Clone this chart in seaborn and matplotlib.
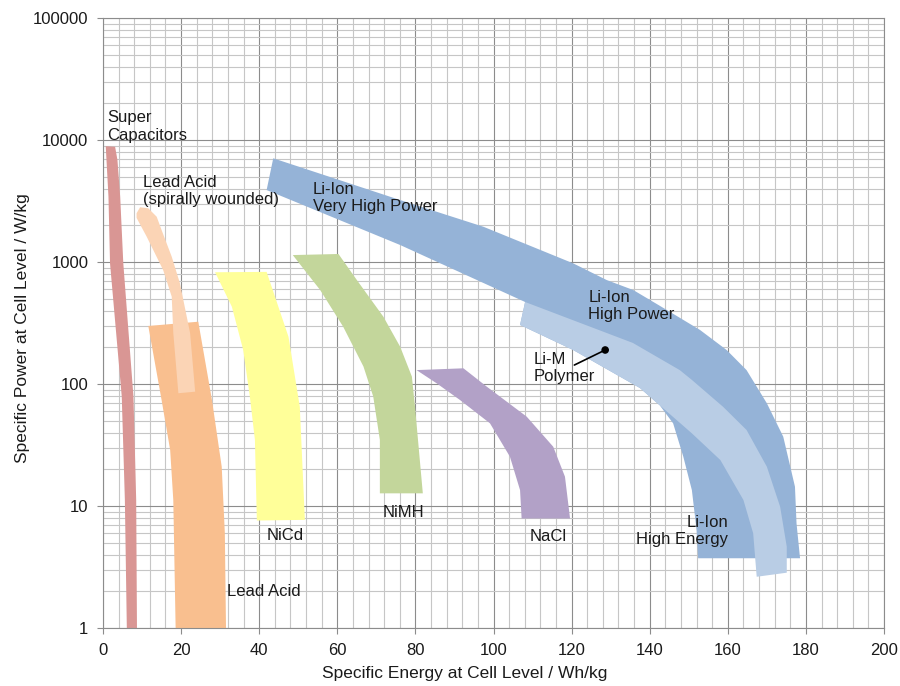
import matplotlib
matplotlib.use("Agg")
import matplotlib.pyplot as plt
from matplotlib.ticker import MultipleLocator, FixedLocator, FixedFormatter, LogLocator, NullFormatter
import seaborn as sns
import pandas as pd

sns.set_theme(style="white")
plt.rcParams["font.family"] = ["Liberation Sans", "DejaVu Sans"]

# Region outlines: specific energy (Wh/kg) and specific power (W/kg)
supercap_energy = [0.7, 1.4, 1.8, 3.3, 4.8, 5.6, 6.1, 8.7, 8.5, 7.8, 6.5, 5.2, 4.4, 3.7, 3.1]
supercap_power = [8900, 3430, 975, 277, 79, 11.2, 1, 1, 11.2, 79, 277, 975, 3430, 6860, 8800]

lead_energy = [11.6, 24.4, 27.9, 30.4, 31.2, 31.5, 18.6, 18.0, 17.2, 15.0]
lead_power = [299, 324, 74, 21, 6.0, 1, 1, 11.2, 28.8, 74]

spiral_energy = [8.6, 8.6, 9.5, 11.6, 13.75, 15.0, 17.6, 19.7, 22.3, 23.6, 19.3, 18.0, 17.6, 15.4, 11.2]
spiral_power = [2300, 2510, 2810, 2755, 2350, 1830, 1105, 669, 262, 86.5, 84, 262, 520, 860, 1610]

nicd_energy = [28.7, 41.9, 47.5, 50.4, 51.7, 39.4, 38.9, 37.6, 35.9, 33.0]
nicd_power = [824, 830, 244, 65, 7.7, 7.6, 34.8, 79, 190, 430]

nimh_energy = [48.6, 60.3, 65.0, 71.8, 76.1, 79.1, 79.9, 81.9, 70.9, 70.9, 69.2, 66.7, 61.5, 55.6]
nimh_power = [1140, 1163, 712, 356, 202, 115, 65, 12.7, 12.7, 34.8, 79, 139, 295, 590]

nacl_energy = [80.3, 92.3, 98.3, 108.5, 115.3, 118.3, 119.6, 107.2, 106.8, 104.2, 99.1, 91.4, 85.5]
nacl_power = [130, 134.5, 95, 54, 30.6, 17.4, 7.9, 7.9, 13.5, 25.4, 47.6, 74, 101]

liion_energy = [43.6, 76.1, 97.4, 120.4, 129.0, 135.8, 144.4, 152.9, 159.7, 164.8, 170.0,
                174.2, 177.2, 177.6, 178.5, 152.4, 152.0, 150.8, 148.6, 146.0, 142.6,
                137.5, 120.4, 106.8, 108.1, 76.1, 41.9]
liion_power = [7080, 3220, 1946, 975, 711, 589, 404, 277, 190, 130, 69.5,
               37, 14.4, 7.2, 3.73, 3.73, 6.36, 13.5, 25.4, 47.6, 66.7,
               92.7, 190, 305, 470, 1378, 3890]

polymer_energy = [108.1, 135.7, 147.7, 150.8, 158.8, 164.8, 170.0, 173.4, 175.1, 175.1,
                  167.4, 166.5, 164.0, 158.1, 150.8, 137.5, 120.4, 106.8]
polymer_power = [470, 217, 130, 108, 65, 42, 21, 9.87, 4.64, 2.84,
                 2.63, 5.97, 11.2, 23.8, 39.4, 92.7, 190, 305]

# Region labels
label_text = ["Super\nCapacitors", "Lead Acid\n(spirally wounded)", "Li-Ion\nVery High Power",
              "Li-Ion\nHigh Power", "Li-M\nPolymer", "NiCd", "NiMH", "NaCl",
              "Li-Ion\nHigh Energy", "Lead Acid"]
label_x = [1.0, 10.3, 53.7, 124.3, 110.2, 42.0, 71.6, 109.3, 160.1, 31.7]
label_y = [12900, 3820, 3350, 436, 135, 5.68, 8.85, 5.6, 6.24, 2.01]
label_ha = ["left"] * 8 + ["right", "left"]

# Li-M Polymer pointer: text end and marker point
pointer_energy = [120.7, 128.6]
pointer_power = [143, 190]

# Axis ticks
energy_ticks = [0, 20, 40, 60, 80, 100, 120, 140, 160, 180, 200]
power_ticks = [1, 10, 100, 1000, 10000, 100000]
power_tick_labels = ["1", "10", "100", "1000", "10000", "100000"]

regions = [
    (supercap_energy, supercap_power, "#D99694"),
    (lead_energy, lead_power, "#F9BF8F"),
    (spiral_energy, spiral_power, "#FBD4B5"),
    (nicd_energy, nicd_power, "#FFFF99"),
    (nimh_energy, nimh_power, "#C3D69B"),
    (nacl_energy, nacl_power, "#B2A1C7"),
    (liion_energy, liion_power, "#95B3D7"),
    (polymer_energy, polymer_power, "#B9CDE5"),
]

fig = plt.figure(figsize=(9, 6.86), dpi=100)
ax = fig.add_axes([103 / 900, 1 - 628 / 686, 781 / 900, 610 / 686])
ax.set_yscale("log")
ax.set_xlim(0, 200)
ax.set_ylim(1, 100000)

for energy, power, color in regions:
    ax.fill(energy, power, color=color, lw=0, zorder=2)

text_color = "#1a1a1a"
for txt, x, y, ha in zip(label_text, label_x, label_y, label_ha):
    ax.text(x, y, txt, ha=ha, va="center", multialignment=ha, fontsize=12,
            color=text_color, zorder=4, linespacing=1.2)

ax.plot(pointer_energy, pointer_power, color="black", lw=1.2, zorder=5)
pointer_df = pd.DataFrame({"energy": pointer_energy[1:], "power": pointer_power[1:]})
sns.scatterplot(data=pointer_df, x="energy", y="power", ax=ax, color="black",
                s=30, edgecolor="none", zorder=6, legend=False)

# Grid and ticks
grid_major = "#8c8c8c"
grid_minor = "#c6c6c6"
ax.xaxis.set_major_locator(FixedLocator(energy_ticks))
ax.xaxis.set_minor_locator(MultipleLocator(4))
ax.yaxis.set_major_locator(FixedLocator(power_ticks))
ax.yaxis.set_major_formatter(FixedFormatter(power_tick_labels))
ax.yaxis.set_minor_locator(LogLocator(base=10, subs=range(2, 10), numticks=20))
ax.yaxis.set_minor_formatter(NullFormatter())
ax.set_axisbelow(True)
ax.grid(which="minor", color=grid_minor, lw=0.8, zorder=0)
ax.grid(which="major", color=grid_major, lw=0.8, zorder=1)
ax.tick_params(which="major", direction="out", length=4.5, width=0.8, color=grid_major,
               labelsize=12, labelcolor=text_color, pad=6, left=True, bottom=True)
ax.tick_params(which="minor", length=0)
for side in ax.spines.values():
    side.set_color(grid_major)
    side.set_linewidth(0.8)

ax.set_xlabel("Specific Energy at Cell Level / Wh/kg", fontsize=12.5, color=text_color)
ax.set_ylabel("Specific Power at Cell Level / W/kg", fontsize=12.5, color=text_color)
ax.xaxis.set_label_coords(0.463, -0.062)
ax.yaxis.set_label_coords(-0.0935, 0.492)

fig.savefig("out.png", dpi=100, facecolor="white")
